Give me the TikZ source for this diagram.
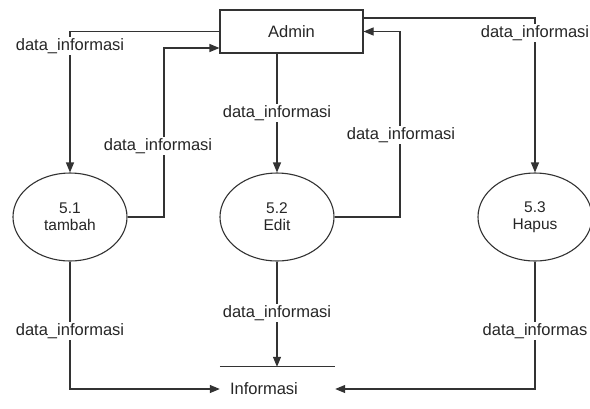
\documentclass[tikz,border=0pt]{standalone}
\usepackage{fontspec}
\setmainfont{Liberation Sans}
\usetikzlibrary{arrows.meta,shapes.geometric}
\begin{document}
\begin{tikzpicture}[x=1pt,y=-1pt,
  txt/.style={font=\fontsize{16.5}{14}\selectfont, text=black!85},
  line/.style={draw=black!80, line width=1.1pt},
  arr/.style={line, -{Triangle[length=10pt,width=8pt]}},
  lbl/.style={txt, fill=white, inner sep=1pt},
  proc/.style={ellipse, draw=black!80, line width=1.1pt, minimum width=114pt, minimum height=88pt, inner sep=0pt, align=center, txt, font=\fontsize{15.5}{17}\selectfont},
  ent/.style={draw=black!80, line width=1.1pt, minimum width=143pt, minimum height=43pt, inner sep=0pt, txt}]
\useasboundingbox (0,0) rectangle (590,408);
\fill[white] (0,0) rectangle (590,408);
% nodes
\node[ent] (admin) at (291.5,31.5) {Admin};
\node[proc] (p1) at (70,217) {5.1\\tambah};
\node[proc] (p2) at (277,217) {5.2\\Edit};
\node[proc] (p3) at (535,217) {5.3\\Hapus};
\node[txt, minimum width=115pt, text width=95pt, inner xsep=10pt, inner ysep=0pt, minimum height=44pt, align=left] (inf) at (277.5,389) {Informasi};
% data store line
\draw[line] (inf.north west) -- (inf.north east);
% connectors
\draw[arr] (admin.west) -| (p1.north);
\draw[arr] (p1.east) -| (164,48) -- (admin.west |- 164,48);
\draw[arr] (admin.south -| p2.north) -- (p2.north);
\draw[arr] (p2.east) -| (400,31.5) -- (admin.east);
\draw[arr] (admin.east |- 0,18) -| (p3.north);
\draw[arr] (p1.south) |- (inf.west);
\draw[arr] (p2.south) -- (inf.north -| p2.south);
\draw[arr] (p3.south) |- (inf.east);
% labels
\node[lbl] (l1) at (70,46) {data\_informasi};
\node[lbl] (l2) at (158,146) {data\_informasi};
\node[lbl] (l3) at (277,113) {data\_informasi};
\node[lbl] (l4) at (401,135) {data\_informasi};
\node[lbl] (l5) at (535,33) {data\_informasi};
\node[lbl] (l6) at (70,331) {data\_informasi};
\node[lbl] (l7) at (277,313) {data\_informasi};
\node[lbl] (l8) at (535,331) {data\_informas};
\end{tikzpicture}
\end{document}
